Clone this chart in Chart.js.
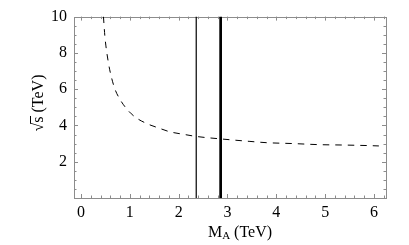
<!DOCTYPE html>
<html><head><meta charset="utf-8">
<script src="https://cdn.jsdelivr.net/npm/chart.js@4/dist/chart.umd.min.js"></script>
<style>html,body{margin:0;padding:0;background:#fff;}canvas{display:block;}</style>
</head><body>
<canvas id="c" width="409" height="245"></canvas>
<script>
// Data
const mA = [0.46, 0.49, 0.56, 0.63, 0.70, 0.80, 0.94, 1.11, 1.35, 1.60, 1.82, 2.10, 2.37, 2.85, 3.46, 3.80, 4.35, 4.89, 5.37, 5.88, 6.10];
const sqrtS = [10.0, 8.9, 7.48, 6.59, 5.97, 5.43, 4.90, 4.46, 4.10, 3.85, 3.65, 3.51, 3.39, 3.26, 3.12, 3.05, 3.00, 2.94, 2.92, 2.89, 2.87];
const thinLineX = 2.36;
const thickLineX = 2.86;
const xTicks = [0, 1, 2, 3, 4, 5, 6];
const yTicks = [2, 4, 6, 8, 10];
const xRange = [-0.143, 6.246];
const yRange = [0, 10];

const curve = mA.map((x, i) => ({x: x, y: sqrtS[i]}));
const FONT = 'Liberation Serif';
const FS = 16;

const framePlugin = {
  id: 'frame',
  beforeDatasetsDraw(chart) {
    const {ctx, chartArea: a, scales: {x, y}} = chart;
    ctx.save();
    ctx.strokeStyle = '#8c8c8c';
    ctx.lineWidth = 1;
    ctx.beginPath();
    for (let k = Math.ceil(xRange[0] / 0.2); k * 0.2 <= xRange[1] + 1e-9; k++) {
      const v = k * 0.2;
      const major = Math.abs(v - Math.round(v)) < 1e-6;
      const len = major ? 4 : 2.5;
      const px = Math.round(x.getPixelForValue(v)) + 0.5;
      ctx.moveTo(px, a.bottom); ctx.lineTo(px, a.bottom - len);
      ctx.moveTo(px, a.top); ctx.lineTo(px, a.top + len);
    }
    for (let k = 0; k * 0.5 <= yRange[1] + 1e-9; k++) {
      const v = k * 0.5;
      const major = Math.abs(v / 2 - Math.round(v / 2)) < 1e-6;
      const len = major ? 4 : 2.5;
      const py = Math.round(y.getPixelForValue(v)) + 0.5;
      ctx.moveTo(a.left, py); ctx.lineTo(a.left + len, py);
      ctx.moveTo(a.right, py); ctx.lineTo(a.right - len, py);
    }
    ctx.stroke();
    ctx.strokeRect(Math.round(a.left) + 0.5, Math.round(a.top) + 0.5, Math.round(a.right - a.left), Math.round(a.bottom - a.top));
    ctx.restore();
  },
  afterDraw(chart) {
    const {ctx} = chart;
    ctx.save();
    ctx.fillStyle = '#000';
    const big = FS + 'px "' + FONT + '"';
    const small = '11px "' + FONT + '"';
    ctx.textBaseline = 'alphabetic';
    ctx.font = big;
    const wM = ctx.measureText('M').width;
    ctx.font = small;
    const wA = ctx.measureText('A').width;
    ctx.font = big;
    const wR = ctx.measureText(' (TeV)').width;
    const total = wM + wA + wR;
    let sx = 240 - total / 2;
    const base = 237;
    ctx.fillText('M', sx, base);
    ctx.font = small;
    ctx.fillText('A', sx + wM, base + 2);
    ctx.font = big;
    ctx.fillText(' (TeV)', sx + wM + wA, base);
    // y title
    ctx.translate(43, 103);
    ctx.rotate(-Math.PI / 2);
    ctx.font = big;
    const wRad = ctx.measureText('\u221A').width;
    const wS = ctx.measureText('s').width;
    const wT = ctx.measureText(' (TeV)').width;
    const tot = wRad + wS + wT;
    const x0 = -tot / 2;
    ctx.fillText('\u221A', x0, 0);
    ctx.fillText('s', x0 + wRad, 0);
    ctx.fillText(' (TeV)', x0 + wRad + wS, 0);
    ctx.strokeStyle = '#000';
    ctx.lineWidth = 1;
    ctx.beginPath();
    ctx.moveTo(x0 + wRad - 1, -12.5);
    ctx.lineTo(x0 + wRad + wS + 0.5, -12.5);
    ctx.stroke();
    ctx.restore();
  }
};

new Chart(document.getElementById('c'), {
  type: 'scatter',
  data: {
    datasets: [
      {data: curve, showLine: true, borderColor: '#000', borderWidth: 1, borderDash: [6.5, 6], pointRadius: 0, cubicInterpolationMode: 'monotone', fill: false},
      {data: [{x: thinLineX, y: yRange[0]}, {x: thinLineX, y: yRange[1]}], showLine: true, borderColor: '#000', borderWidth: 1.2, pointRadius: 0},
      {data: [{x: thickLineX, y: yRange[0]}, {x: thickLineX, y: yRange[1]}], showLine: true, borderColor: '#000', borderWidth: 2.7, pointRadius: 0}
    ]
  },
  options: {
    responsive: false,
    animation: false,
    devicePixelRatio: 1,
    layout: {padding: {top: 10, right: 23, left: 0, bottom: 0}},
    plugins: {legend: {display: false}, tooltip: {enabled: false}},
    scales: {
      x: {
        type: 'linear', min: xRange[0], max: xRange[1],
        afterBuildTicks: s => { s.ticks = xTicks.map(v => ({value: v})); },
        afterFit: s => { s.height = 47; },
        ticks: {font: {family: FONT, size: FS}, color: '#000', padding: 5, maxRotation: 0},
        grid: {display: false, drawTicks: false}, border: {display: false}
      },
      y: {
        type: 'linear', min: yRange[0], max: yRange[1],
        afterBuildTicks: s => { s.ticks = yTicks.map(v => ({value: v})); },
        afterFit: s => { s.width = 74; },
        ticks: {font: {family: FONT, size: FS}, color: '#000', padding: 7},
        grid: {display: false, drawTicks: false}, border: {display: false}
      }
    }
  },
  plugins: [framePlugin]
});
</script>
</body></html>
